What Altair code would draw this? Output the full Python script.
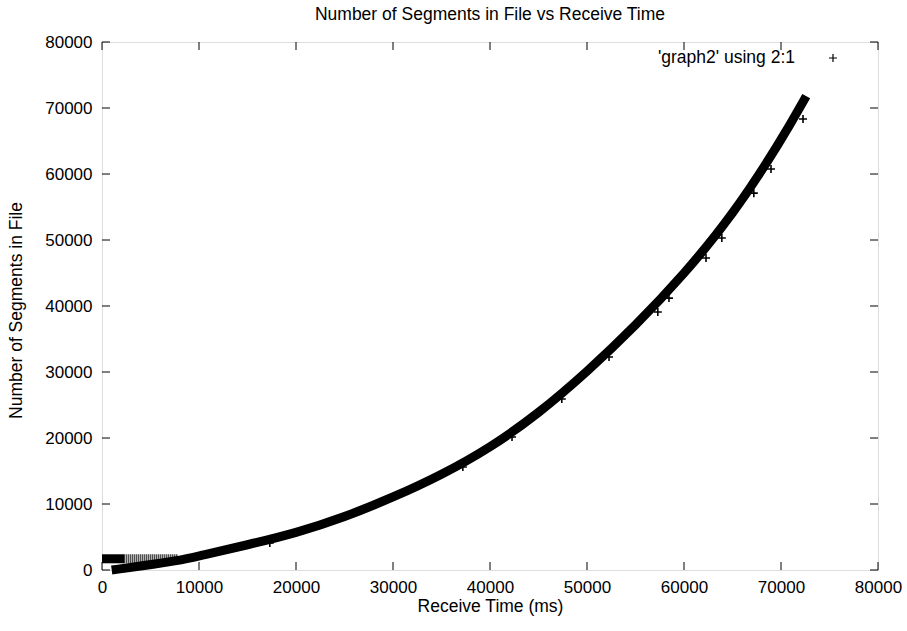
import altair as alt
import pandas as pd

# Main dense band of points (read along the centre of the thick curve)
curve_x = [1000, 4000, 8000, 10000, 15000, 20000, 25000, 30000, 35000, 40000,
           45000, 50000, 55000, 60000, 65000, 70000, 72600]
curve_y = [0, 600, 1450, 2150, 3800, 5600, 8000, 11000, 14400, 18500,
           23700, 30000, 37000, 44800, 53700, 65000, 71800]

# Flat band at the start (dense part, then sparse part)
flat_dense_x = [0, 2300]
flat_dense_y = [1700, 1700]
flat_sparse_x = [2300, 7800]
flat_sparse_y = [1700, 1700]

# Isolated points just off the band
out_x = [17300, 37200, 42270, 47400, 52270, 57300, 58450, 62270, 63900, 67200, 68970, 72270]
out_y = [4100, 15600, 20150, 25900, 32270, 39100, 41200, 47270, 50300, 57100, 60760, 68330]

x_ticks = [0, 10000, 20000, 30000, 40000, 50000, 60000, 70000, 80000]
y_ticks = [0, 10000, 20000, 30000, 40000, 50000, 60000, 70000, 80000]

legend_label = "'graph2' using 2:1"
title_text = "Number of Segments in File vs Receive Time"
x_title = "Receive Time (ms)"
y_title = "Number of Segments in File"

FONT = "Liberation Sans"
W, H = 776, 528
PLUS = "M-1,0L1,0M0,-1L0,1"

xs = alt.Scale(domain=[0, 80000], nice=False, zero=False)
ys = alt.Scale(domain=[0, 80000], nice=False, zero=False)

x_axis = alt.Axis(values=x_ticks, format="d", title=x_title, grid=False, ticks=False,
                  tickSize=0, domain=False, labelFontSize=17, labelFont=FONT,
                  labelColor="black", labelPadding=17, labelBaseline="middle",
                  labelFlush=False, titleFont=FONT, titleFontSize=17.5,
                  titleFontWeight="normal", titleColor="black", titleX=388, titleY=36,
                  titleBaseline="middle", titleAlign="center")
y_axis = alt.Axis(values=y_ticks, format="d", title=y_title, grid=False, ticks=False,
                  tickSize=0, domain=False, labelFontSize=17, labelFont=FONT,
                  labelColor="black", labelPadding=10, labelBaseline="middle",
                  labelAlign="right", labelFlush=False, titleFont=FONT, titleFontSize=17.5,
                  titleFontWeight="normal", titleColor="black", titleX=-86, titleY=268,
                  titleAngle=270, titleBaseline="middle", titleAlign="center")

curve_df = pd.DataFrame({"x": curve_x, "y": curve_y})
dense_df = pd.DataFrame({"x": flat_dense_x, "y": flat_dense_y})
sparse_df = pd.DataFrame({"x": flat_sparse_x, "y": flat_sparse_y})
out_df = pd.DataFrame({"x": out_x, "y": out_y})
xt_df = pd.DataFrame({"v": x_ticks})
yt_df = pd.DataFrame({"v": y_ticks})

curve = alt.Chart(curve_df).mark_line(color="black", strokeWidth=9, interpolate="basis",
                                      strokeCap="butt", clip=False).encode(
    x=alt.X("x:Q", scale=xs, axis=x_axis),
    y=alt.Y("y:Q", scale=ys, axis=y_axis),
)
dense = alt.Chart(dense_df).mark_line(color="black", strokeWidth=9, strokeCap="butt").encode(
    x=alt.X("x:Q", scale=xs), y=alt.Y("y:Q", scale=ys))
sparse = alt.Chart(sparse_df).mark_line(color="black", strokeWidth=9, strokeCap="butt",
                                        strokeDash=[1, 1]).encode(
    x=alt.X("x:Q", scale=xs), y=alt.Y("y:Q", scale=ys))
outliers = alt.Chart(out_df).mark_point(shape=PLUS, size=64, color="black", filled=False,
                                        strokeWidth=1.6, opacity=1).encode(
    x=alt.X("x:Q", scale=xs), y=alt.Y("y:Q", scale=ys))

# inward ticks on all four sides
tb = alt.Chart(xt_df).mark_rule(color="black", strokeWidth=1).encode(
    x=alt.X("v:Q", scale=xs), y=alt.value(H), y2=alt.value(H - 8))
tt = alt.Chart(xt_df).mark_rule(color="black", strokeWidth=1).encode(
    x=alt.X("v:Q", scale=xs), y=alt.value(0), y2=alt.value(8))
tl = alt.Chart(yt_df).mark_rule(color="black", strokeWidth=1).encode(
    y=alt.Y("v:Q", scale=ys), x=alt.value(0), x2=alt.value(8))
tr = alt.Chart(yt_df).mark_rule(color="black", strokeWidth=1).encode(
    y=alt.Y("v:Q", scale=ys), x=alt.value(W), x2=alt.value(W - 8))

leg_text = alt.Chart(pd.DataFrame({"t": [legend_label]})).mark_text(
    align="right", baseline="alphabetic", font=FONT, fontSize=17.5, color="black").encode(
    x=alt.value(693), y=alt.value(21), text="t:N")
leg_sym = alt.Chart(pd.DataFrame({"t": [legend_label]})).mark_point(
    shape=PLUS, size=64, color="black", filled=False, strokeWidth=1.2, opacity=1).encode(
    x=alt.value(731), y=alt.value(16))

title_mark = alt.Chart(pd.DataFrame({"t": [title_text]})).mark_text(
    align="center", baseline="alphabetic", font=FONT, fontSize=17.5, color="black").encode(
    x=alt.value(W / 2), y=alt.value(-22), text="t:N")

chart = alt.layer(curve, dense, sparse, outliers, tb, tt, tl, tr, leg_text, leg_sym,
                  title_mark).properties(
    width=W, height=H,
    autosize=alt.AutoSizeParams(type="none"),
    padding={"left": 102, "top": 42, "right": 29, "bottom": 61},
).configure_view(stroke="black", strokeWidth=1).configure(background="white")

chart.save("out.html", embed_options={"renderer": "svg", "actions": False})
